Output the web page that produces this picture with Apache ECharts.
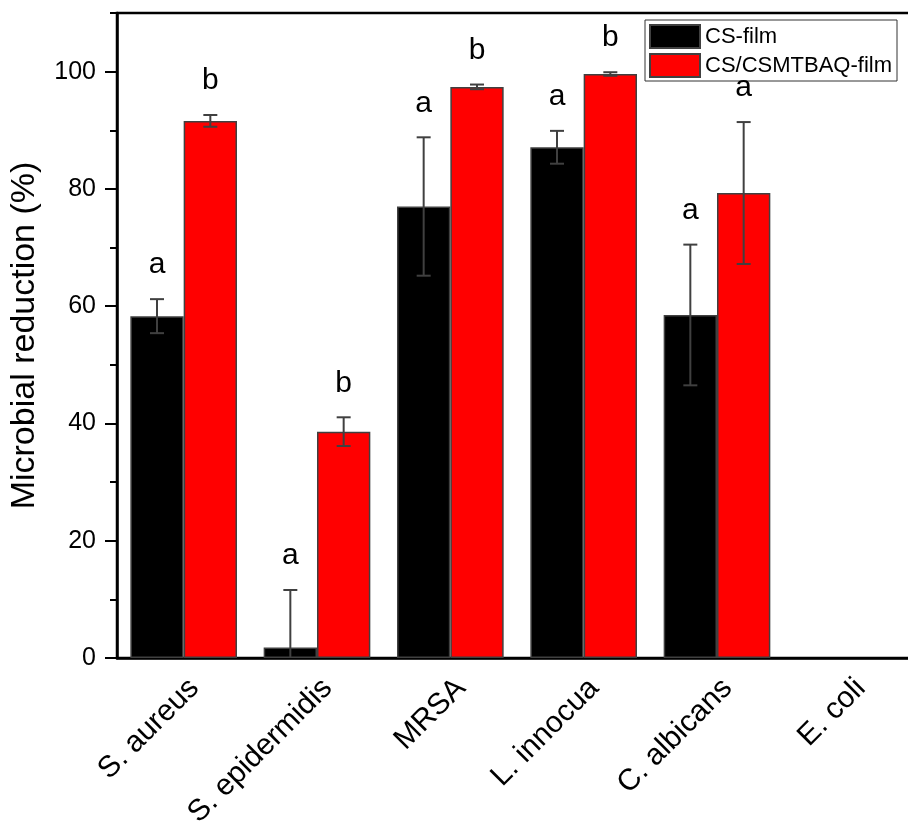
<!DOCTYPE html>
<html>
<head>
<meta charset="utf-8">
<script src="https://cdn.jsdelivr.net/npm/echarts@6/dist/echarts.min.js"></script>
<style>html,body{margin:0;padding:0;background:#fff;}#chart{width:908px;height:821px;}</style>
</head>
<body>
<div id="chart"></div>
<script>
const categories = ['S. aureus', 'S. epidermidis', 'MRSA', 'L. innocua', 'C. albicans', 'E. coli'];
const csFilm = [58.3, 1.8, 77.0, 87.1, 58.5, 0];
const csFilmErr = [2.9, 9.8, 11.8, 2.8, 12.0, 0];
const csFilmLetters = ['a', 'a', 'a', 'a', 'a', ''];
const csmFilm = [91.6, 38.6, 97.4, 99.6, 79.3, 0];
const csmFilmErr = [1.0, 2.45, 0.4, 0.3, 12.1, 0];
const csmFilmLetters = ['b', 'b', 'b', 'b', 'a', ''];
const majorTicks = [0, 20, 40, 60, 80, 100];
const seriesNames = ['CS-film', 'CS/CSMTBAQ-film'];

const FONT = 'Liberation Sans, Arial, sans-serif';
const chart = echarts.init(document.getElementById('chart'), null, {renderer: 'canvas'});

const errData = [];
categories.forEach((c, i) => {
  if (csFilm[i] > 0) errData.push([i, csFilm[i], csFilmErr[i], 0, csFilmLetters[i]]);
  if (csmFilm[i] > 0) errData.push([i, csmFilm[i], csmFilmErr[i], 1, csmFilmLetters[i]]);
});

function barData(arr) {
  return arr.map(v => v > 0 ? v : {value: v, itemStyle: {borderWidth: 0}});
}

function renderErr(params, api) {
  const idx = api.value(0), val = api.value(1), err = api.value(2), grp = api.value(3);
  const letter = errData[params.dataIndex][4];
  const catW = api.size([1, 0])[0];
  const barW = catW * 0.8 / 2;
  const c = api.coord([idx, val]);
  const x = c[0] + (grp === 0 ? -barW / 2 : barW / 2);
  const hi = api.coord([idx, val + err])[1];
  const loVal = val - err;
  const lo = api.coord([idx, Math.max(0, loVal)])[1];
  const half = 7;
  const style = {stroke: '#404040', lineWidth: 2};
  const children = [
    {type: 'line', shape: {x1: x, y1: hi, x2: x, y2: lo}, style: style},
    {type: 'line', shape: {x1: x - half, y1: hi, x2: x + half, y2: hi}, style: style}
  ];
  if (loVal >= 0) children.push({type: 'line', shape: {x1: x - half, y1: lo, x2: x + half, y2: lo}, style: style});
  if (letter) children.push({type: 'text', style: {text: letter, x: x, y: hi - 19, align: 'center', verticalAlign: 'bottom', font: '30px ' + FONT, fill: '#000'}});
  return {type: 'group', children: children};
}

const option = {
  backgroundColor: '#fff',
  animation: false,
  textStyle: {fontFamily: FONT},
  grid: {left: 117, top: 13, width: 800, height: 645, show: true, borderColor: '#000', borderWidth: 2.5,
    backgroundColor: 'transparent', containLabel: false, outerBoundsMode: 'none'},
  legend: {
    orient: 'vertical', left: 645, top: 20,
    padding: [4, 5, 3, 4], itemGap: 4, itemWidth: 50, itemHeight: 23,
    borderColor: '#333', borderWidth: 1,
    textStyle: {fontSize: 22, color: '#000', fontFamily: FONT},
    icon: 'rect',
    data: seriesNames
  },
  xAxis: {
    type: 'category', data: categories,
    axisLine: {lineStyle: {color: '#000', width: 2.5}},
    axisTick: {alignWithLabel: true, length: 12, lineStyle: {color: '#000', width: 2}},
    axisLabel: {rotate: 45, fontSize: 30, color: '#000', margin: 15, verticalAlign: 'top', fontFamily: FONT, interval: 0},
    splitLine: {show: false}
  },
  yAxis: [{
    type: 'value', min: 0, max: 110, interval: 10,
    name: 'Microbial reduction (%)', nameLocation: 'middle', nameGap: 75,
    nameTextStyle: {fontSize: 34, color: '#000', fontFamily: FONT},
    axisLine: {show: true, lineStyle: {color: '#000', width: 2.5}},
    axisTick: {show: true, length: 12, customValues: majorTicks, lineStyle: {color: '#000', width: 2}},
    axisLabel: {fontSize: 25, color: '#000', margin: 21, customValues: majorTicks, fontFamily: FONT},
    splitLine: {show: false}
  }, {
    type: 'value', min: 0, max: 110, interval: 10, position: 'left',
    axisLine: {show: false},
    axisTick: {show: true, length: 7, lineStyle: {color: '#000', width: 2}},
    axisLabel: {show: false},
    splitLine: {show: false}
  }],
  series: [
    {name: seriesNames[0], type: 'bar', data: barData(csFilm), barGap: '0%', barCategoryGap: '20%',
      itemStyle: {color: '#000', borderColor: '#404040', borderWidth: 1.5}},
    {name: seriesNames[1], type: 'bar', data: barData(csmFilm), barGap: '0%', barCategoryGap: '20%',
      itemStyle: {color: '#ff0000', borderColor: '#404040', borderWidth: 1.5}},
    {type: 'custom', renderItem: renderErr, data: errData, z: 10, encode: {x: 0, y: 1}}
  ]
};
chart.setOption(option);
</script>
</body>
</html>
